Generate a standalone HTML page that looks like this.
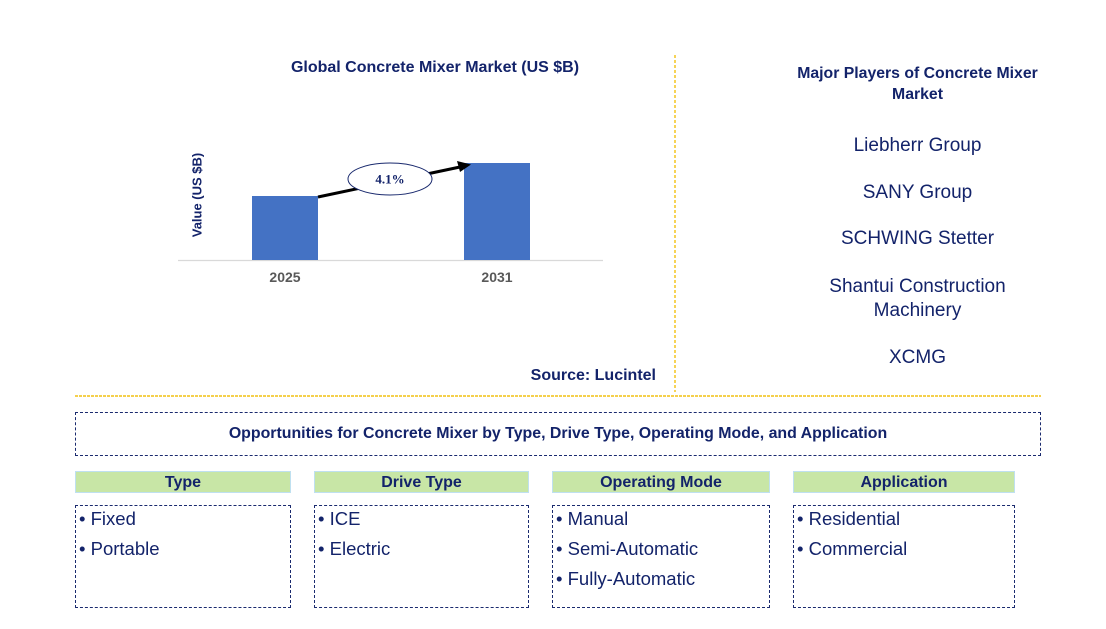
<!DOCTYPE html>
<html><head><meta charset="utf-8"><style>
body{margin:0;width:1106px;height:629px;background:#fff;font-family:"Liberation Sans",Arial,sans-serif;color:#13236a;position:relative;overflow:hidden}
.a{position:absolute}
.c{text-align:center}
.hdr{position:absolute;top:471px;height:22px;background:#c8e6a6;border:1px solid #bfe0f0;font-weight:bold;font-size:16px;text-align:center;line-height:21px;box-sizing:border-box}
.box{position:absolute;top:505px;height:103px;border:1px dashed #1a2a6e;box-sizing:border-box;font-size:18.5px;padding-top:3px;padding-left:3px}
.box div{height:30px;line-height:20px}
</style></head><body>
<div class="a c" style="left:215px;top:59px;width:440px;font-weight:bold;font-size:16px">Global Concrete Mixer Market (US $B)</div>
<svg class="a" style="left:0;top:0" width="1106" height="629">
<line x1="675" y1="55" x2="675" y2="392" stroke="#f2c010" stroke-dasharray="3,2" stroke-width="1.4"/>
<line x1="75" y1="396" x2="1041" y2="396" stroke="#f2c010" stroke-dasharray="3,1" stroke-width="1.4"/>
<line x1="178" y1="260.5" x2="603" y2="260.5" stroke="#d9d9d9" stroke-width="1.2"/>
<g id="bars"></g>
<text x="198" y="195" transform="rotate(-90 198 195)" text-anchor="middle" dominant-baseline="middle" font-size="13" font-weight="bold" fill="#13236a">Value (US $B)</text>
<line x1="318" y1="197" x2="460" y2="167" stroke="#000" stroke-width="3"/>
<path d="M471,164.5 L457,161 L460,172 z" fill="#000"/>
<ellipse cx="390" cy="179" rx="42" ry="16" fill="#fff" stroke="#1a2a6e" stroke-width="1"/>
<text x="390" y="183.5" text-anchor="middle" font-family="Liberation Serif,serif" font-weight="bold" font-size="13" fill="#13236a">4.1%</text>
</svg>
<div class="a" style="left:456px;top:367px;width:200px;text-align:right;font-weight:bold;font-size:16px">Source: Lucintel</div>
<div class="a c" style="left:770px;top:63px;width:295px;font-weight:bold;font-size:15.8px;line-height:21px">Major Players of Concrete Mixer<br>Market</div>
<div class="a c" style="left:770px;top:135px;width:295px;font-size:19px">Liebherr Group</div>
<div class="a c" style="left:770px;top:182px;width:295px;font-size:19px">SANY Group</div>
<div class="a c" style="left:770px;top:228px;width:295px;font-size:19px">SCHWING Stetter</div>
<div class="a c" style="left:770px;top:275px;width:295px;font-size:19px;line-height:24px">Shantui Construction<br>Machinery</div>
<div class="a c" style="left:770px;top:347px;width:295px;font-size:19px">XCMG</div>
<div class="a c" style="left:75px;top:412px;width:966px;height:44px;border:1px dashed #1a2a6e;box-sizing:border-box;font-weight:bold;font-size:15.9px;line-height:42px">Opportunities for Concrete Mixer by Type, Drive Type, Operating Mode, and Application</div>
<div class="hdr" style="left:75px;width:216px">Type</div>
<div class="hdr" style="left:314px;width:215px">Drive Type</div>
<div class="hdr" style="left:552px;width:218px">Operating Mode</div>
<div class="hdr" style="left:793px;width:222px">Application</div>
<div class="box" style="left:75px;width:216px"><div>• Fixed</div><div>• Portable</div></div>
<div class="box" style="left:314px;width:215px"><div>• ICE</div><div>• Electric</div></div>
<div class="box" style="left:552px;width:218px"><div>• Manual</div><div>• Semi-Automatic</div><div>• Fully-Automatic</div></div>
<div class="box" style="left:793px;width:222px"><div>• Residential</div><div>• Commercial</div></div>
<script>
const categories=["2025","2031"];
const values=[6.4,9.7];
const NS="http://www.w3.org/2000/svg";
const g=document.getElementById("bars");
const baseY=260, pxPerUnit=10;
function yScale(v){return baseY-v*pxPerUnit;}
function xScale(i){return 285+i*212;}
categories.forEach((c,i)=>{
  const r=document.createElementNS(NS,"rect");
  r.setAttribute("x",xScale(i)-33);r.setAttribute("width",66);
  r.setAttribute("y",yScale(values[i]));r.setAttribute("height",baseY-yScale(values[i]));
  r.setAttribute("fill","#4472c4");
  
  
  g.appendChild(r);
  const t=document.createElementNS(NS,"text");
  t.setAttribute("x",xScale(i));t.setAttribute("y",282);
  t.setAttribute("text-anchor","middle");t.setAttribute("font-size","14");
  t.setAttribute("font-weight","bold");t.setAttribute("fill","#595959");
  t.textContent=c;
  
  
  g.appendChild(t);
});
</script>
</body></html>
